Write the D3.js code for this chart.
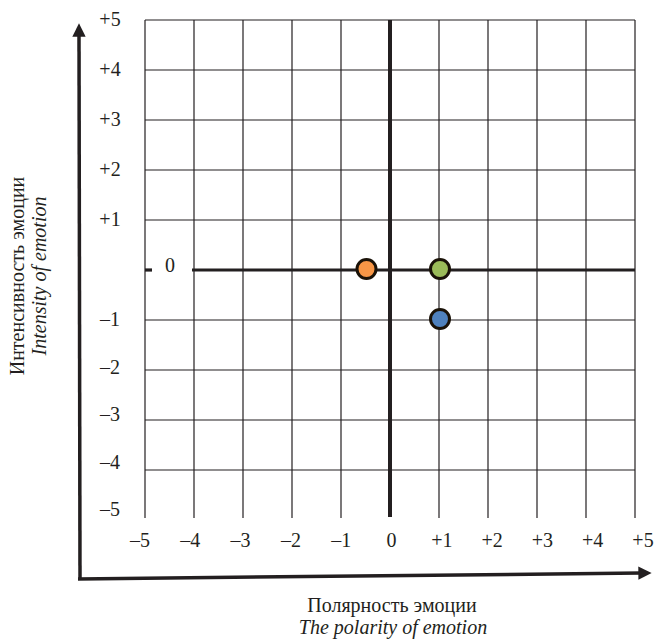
<!DOCTYPE html>
<html>
<head>
<meta charset="utf-8">
<script src="https://cdn.jsdelivr.net/npm/d3@7"></script>
<style>
  body { margin: 0; background: #fff; }
</style>
</head>
<body>
<svg id="chart"></svg>
<script>
// data
const ticks = [-5, -4, -3, -2, -1, 0, 1, 2, 3, 4, 5];
const polarity = [-0.5, 1, 1];
const intensity = [0, 0, -1];
const pointColors = ["#F79646", "#9BBB59", "#4F81BD"];
const xTitle = ["Полярность эмоции", "The polarity of emotion"];
const yTitle = ["Интенсивность эмоции", "Intensity of emotion"];

const width = 656, height = 643;
const ink = "#231f20";
const serif = "Times, serif";
const fontSize = 20;

const svg = d3.select("#chart").attr("width", width).attr("height", height);

const x = d3.scaleLinear().domain([-5, 5]).range([145, 635]);
const y = d3.scaleLinear().domain([-5, 5]).range([520, 20]);

// label placement is a bit off the grid in the original
const xLab = d3.scaleLinear().domain([-5, 5]).range([140, 643]);
const yLab = d3.scaleLinear().domain([-5, -1, 5]).range([510, 320, 20]);

const fmt = (d) => (d > 0 ? "+" + d : d < 0 ? "\u2013" + Math.abs(d) : "0");

const grid = svg.append("g").attr("class", "grid");

// horizontal grid lines (no line at -5)
grid
  .selectAll(".h")
  .data(ticks.filter((d) => d > -5 && d !== 0))
  .join("line")
  .attr("x1", x(-5))
  .attr("x2", x(5))
  .attr("y1", (d) => y(d))
  .attr("y2", (d) => y(d))
  .attr("stroke", ink)
  .attr("stroke-width", 1.2);

// vertical grid lines
grid
  .selectAll(".v")
  .data(ticks.filter((d) => d !== 0))
  .join("line")
  .attr("x1", (d) => x(d))
  .attr("x2", (d) => x(d))
  .attr("y1", y(5))
  .attr("y2", y(-5) - 2)
  .attr("stroke", ink)
  .attr("stroke-width", 1.2);

// thick zero lines
svg
  .append("line")
  .attr("x1", x(0))
  .attr("x2", x(0))
  .attr("y1", y(5))
  .attr("y2", y(-5) - 3)
  .attr("stroke", ink)
  .attr("stroke-width", 4);

svg
  .append("line")
  .attr("x1", x(-4) - 2)
  .attr("x2", x(5))
  .attr("y1", y(0))
  .attr("y2", y(0))
  .attr("stroke", ink)
  .attr("stroke-width", 3.2);

svg
  .append("line")
  .attr("x1", x(-5))
  .attr("x2", x(-5) + 7)
  .attr("y1", y(0))
  .attr("y2", y(0))
  .attr("stroke", ink)
  .attr("stroke-width", 3.2);

// tick labels
svg
  .append("g")
  .selectAll("text")
  .data(ticks)
  .join("text")
  .attr("x", (d) => xLab(d))
  .attr("y", 547)
  .attr("text-anchor", "middle")
  .attr("font-family", serif)
  .attr("font-size", fontSize)
  .attr("fill", ink)
  .text(fmt);

svg
  .append("g")
  .selectAll("text")
  .data(ticks.filter((d) => d !== 0))
  .join("text")
  .attr("x", 110)
  .attr("y", (d) => yLab(d) + 6)
  .attr("text-anchor", "middle")
  .attr("font-family", serif)
  .attr("font-size", fontSize)
  .attr("fill", ink)
  .text(fmt);

svg
  .append("text")
  .attr("x", 170)
  .attr("y", y(0) + 2)
  .attr("text-anchor", "middle")
  .attr("font-family", serif)
  .attr("font-size", fontSize)
  .attr("fill", ink)
  .text("0");

// outer arrows
const defs = svg.append("defs");
defs
  .append("marker")
  .attr("id", "arrow")
  .attr("viewBox", "0 0 10 10")
  .attr("refX", 2)
  .attr("refY", 5)
  .attr("markerWidth", 3.8)
  .attr("markerHeight", 3.8)
  .attr("orient", "auto")
  .append("path")
  .attr("d", "M0,0 L10,5 L0,10 Z")
  .attr("fill", ink);

svg
  .append("path")
  .attr("d", "M80,579 L79,34")
  .attr("stroke", ink)
  .attr("stroke-width", 3.5)
  .attr("fill", "none")
  .attr("marker-end", "url(#arrow)");

svg
  .append("path")
  .attr("d", "M78,579 L641,573")
  .attr("stroke", ink)
  .attr("stroke-width", 3.5)
  .attr("fill", "none")
  .attr("marker-end", "url(#arrow)");

// points
svg
  .append("g")
  .selectAll("circle")
  .data(polarity.map((p, i) => ({ p, v: intensity[i], c: pointColors[i] })))
  .join("circle")
  .attr("cx", (d) => x(d.p) + 1)
  .attr("cy", (d) => y(d.v) - 1)
  .attr("r", 9.5)
  .attr("fill", (d) => d.c)
  .attr("stroke", "#1a1208")
  .attr("stroke-width", 3);

// axis titles
const xt = svg
  .append("text")
  .attr("text-anchor", "middle")
  .attr("font-family", serif)
  .attr("font-size", fontSize)
  .attr("fill", ink);
xt.append("tspan").attr("x", 392).attr("y", 612).text(xTitle[0]);
xt.append("tspan")
  .attr("x", 393)
  .attr("y", 634)
  .attr("font-style", "italic")
  .text(xTitle[1]);

const yt = svg
  .append("text")
  .attr("transform", "translate(0, 276) rotate(-90)")
  .attr("text-anchor", "middle")
  .attr("font-family", serif)
  .attr("font-size", fontSize)
  .attr("fill", ink);
yt.append("tspan").attr("x", 0).attr("y", 24).text(yTitle[0]);
yt.append("tspan")
  .attr("x", 0)
  .attr("y", 46)
  .attr("font-style", "italic")
  .text(yTitle[1]);
</script>
</body>
</html>
